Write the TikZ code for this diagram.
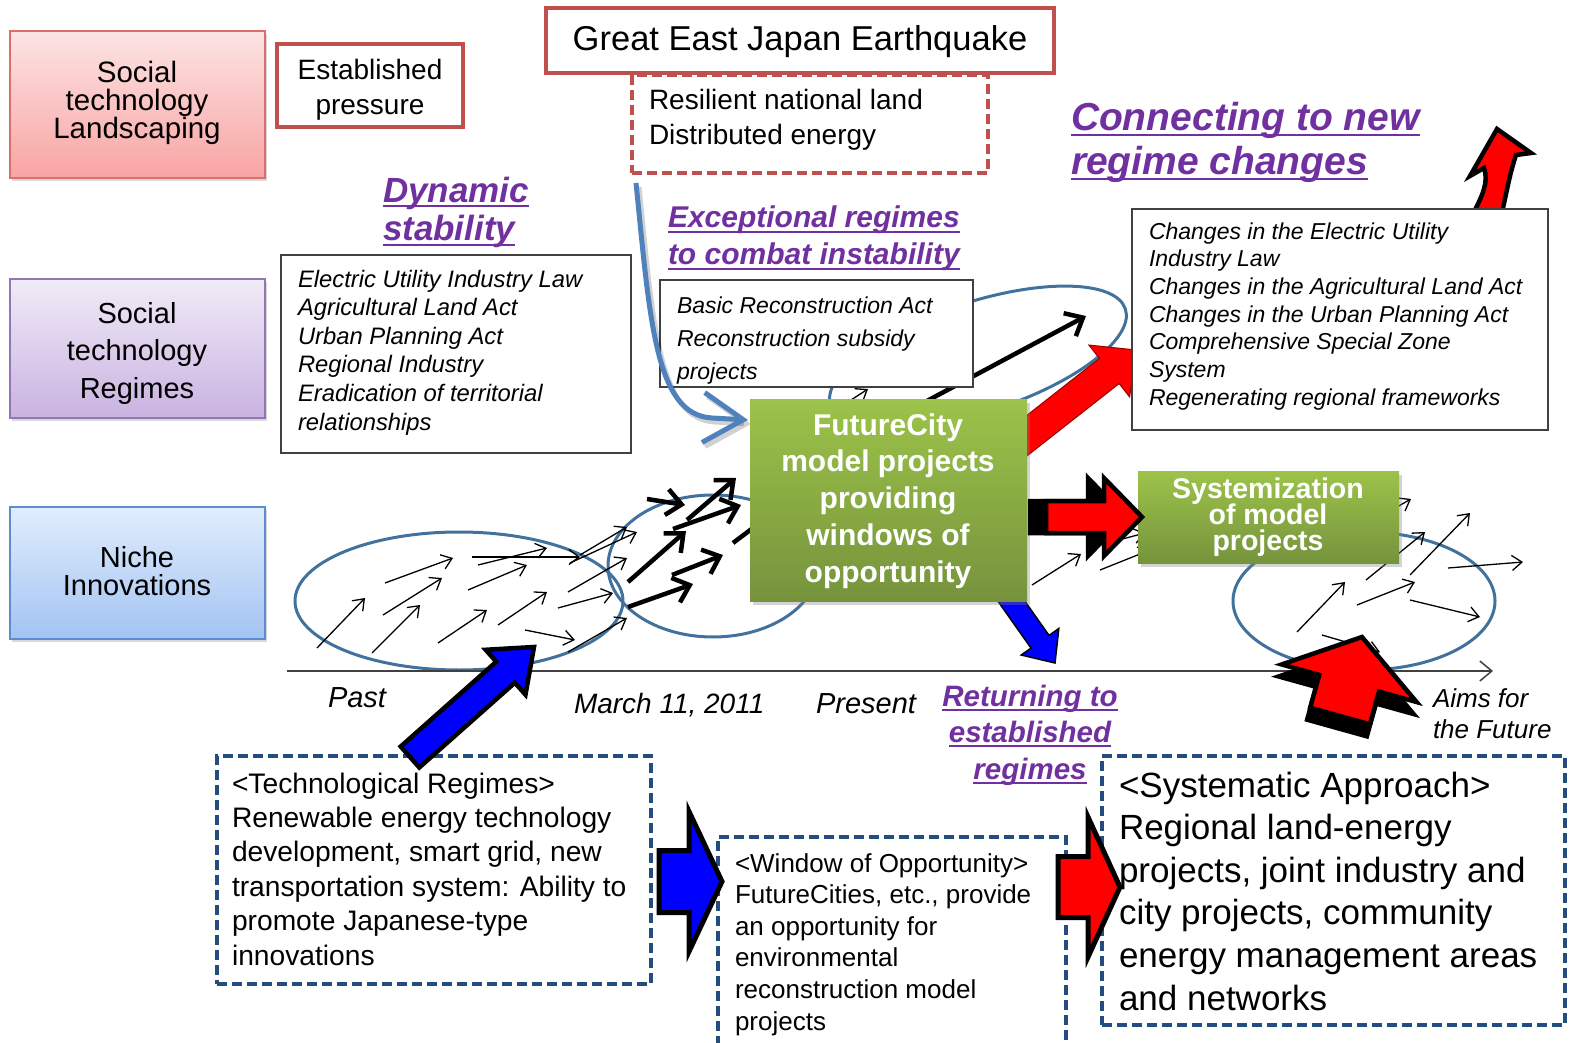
\documentclass[tikz,border=0pt]{standalone}
\usepackage{fontspec}
\setmainfont{Liberation Sans}
\usetikzlibrary{calc,shadows,arrows.meta}

\definecolor{ttlpurple}{HTML}{7030A0}
\definecolor{ellblue}{HTML}{41719C}
\definecolor{dashblue}{HTML}{254C7F}
\definecolor{boxred}{HTML}{C0504D}
\definecolor{grtop}{HTML}{9CC34A}
\definecolor{grbot}{HTML}{76933C}
\definecolor{pinktop}{HTML}{FDE4E4}
\definecolor{pinkbot}{HTML}{F8A4A3}
\definecolor{pinkline}{HTML}{D9706D}
\definecolor{lavtop}{HTML}{F1EBF7}
\definecolor{lavbot}{HTML}{C9B2E1}
\definecolor{lavline}{HTML}{8F78B3}
\definecolor{skytop}{HTML}{E1EDFC}
\definecolor{skybot}{HTML}{A3C3F3}
\definecolor{skyline}{HTML}{5B8DD0}
\definecolor{curvblue}{HTML}{4F81BD}
\definecolor{pureblue}{HTML}{0000FF}
\definecolor{purered}{HTML}{FF0000}

% font size with fixed line pitch
\newcommand\fsz[2]{\fontsize{#1}{#2}\selectfont\lineskiplimit=-100pt\relax}
% strut fixing the top of the first line at 0.75em above its baseline
\newcommand\tstr{\rule{0pt}{0.75em}}
% underlined word group, rule just below the baseline
\newcommand\ulx[1]{\setbox0=\hbox{#1}\rlap{\vrule height -0.09em depth \dimexpr 0.09em+2pt\relax width \wd0}\box0}
% block arrow: tail, tip, shaft half width, head half width, head length, style
\newcommand\blockarrow[6]{%
  \coordinate (ba-h) at ($(#2)!#5!(#1)$);
  \path[#6] ($(#1)!#3!90:(#2)$) -- ($(ba-h)!#3!90:(#2)$) -- ($(ba-h)!#4!90:(#2)$)
    -- (#2) -- ($(ba-h)!#4!-90:(#2)$) -- ($(ba-h)!#3!-90:(#2)$) -- ($(#1)!#3!-90:(#2)$) -- cycle;
}

\begin{document}
\begin{tikzpicture}[x=1pt,y=-1pt,
  every node/.style={inner sep=0pt, outer sep=0pt},
  ell/.style={draw=ellblue, line width=3pt},
  smallvec/.style={line width=1.3pt, -{Straight Barb[length=10pt,width=15pt]}},
  boldvec/.style={line width=4.5pt, -{Straight Barb[length=15pt,width=26pt]}},
  lawframe/.style={draw=black!75, line width=1.2pt, fill=white, anchor=north west},
  redframe/.style={draw=boxred, line width=3.5pt, fill=white, anchor=north west},
  dashbox/.style={draw=dashblue, line width=3.5pt, dash pattern=on 10pt off 5pt, anchor=north west},
  greenbox/.style={anchor=north west, shading=axis, top color=grtop, bottom color=grbot,
    drop shadow={shadow xshift=3pt, shadow yshift=-4pt, opacity=0.35}},
  layerbox/.style={anchor=north west, line width=1.2pt,
    drop shadow={shadow xshift=2pt, shadow yshift=-3pt, opacity=0.3}},
  ttl/.style={text=ttlpurple, anchor=north west, align=left},
  lawtext/.style={anchor=north west, align=left},
]
\useasboundingbox (0,0) rectangle (1575,1043);

% ---------- niche / regime ellipses ----------
\draw[ell] (459,601) ellipse [x radius=164, y radius=69];
\draw[ell] (713,566) ellipse [x radius=105, y radius=71];
\draw[ell, rotate around={18:(978,357)}] (978,357) ellipse [x radius=155, y radius=55];
\draw[ell] (1364,601) ellipse [x radius=131, y radius=69];

% ---------- small development vectors ----------
\foreach \ax/\ay/\bx/\by in {
  317/648/365/598, 372/653/420/605, 383/615/442/578, 385/583/453/558,
  438/643/487/610, 468/590/527/565, 478/565/547/548, 472/557/580/557,
  498/625/547/592, 525/630/575/640, 558/608/613/593, 568/592/627/558,
  570/563/637/532, 580/555/627/527, 568/652/627/618, 820/420/868/389,
  1032/585/1081/554, 1100/545/1145/533, 1100/570/1150/550, 1330/545/1411/499,
  1366/580/1425/532, 1410/575/1470/513, 1297/632/1345/582, 1357/605/1415/582,
  1410/600/1480/617, 1448/568/1523/562, 1322/635/1380/652}
  \draw[smallvec] (\ax,\ay) -- (\bx,\by);

\foreach \ax/\ay/\bx/\by in {
  647/499/685/505, 687/520/736/478, 673/529/741/505, 628/582/686/531,
  672/575/723/555, 628/607/693/584, 733/543/790/500, 925/402/1086/316}
  \draw[boldvec] (\ax,\ay) -- (\bx,\by);

% ---------- arrows leaving the window of opportunity ----------
\draw[fill=purered, draw=black, line width=4.5pt, line join=miter]
  (1474,212) .. controls (1482,196) and (1489,182) .. (1484,168) -- (1470,176)
  -- (1497,129) -- (1531,153) -- (1516,155)
  .. controls (1509,176) and (1506,196) .. (1502,212) -- cycle;

\coordinate (rd-tail) at (1015,445);
\coordinate (rd-tip) at (1136,350);
\blockarrow{rd-tail}{rd-tip}{16pt}{33pt}{34pt}{fill=purered, draw=purered!60!black, line width=1pt}

\coordinate (bd-tail) at (1000,585);
\coordinate (bd-tip) at (1055,663);
\blockarrow{bd-tail}{bd-tip}{11pt}{23pt}{26pt}{fill=pureblue, draw=black, line width=1.5pt}

% ---------- regime boxes ----------
\node[lawframe, minimum width=350pt, minimum height=198pt] (lawbox) at (281,255) {};
\node[lawtext, font=\fsz{23.8}{28.6}\itshape] (lawtxt) at (298,269.2)
  {\tstr Electric Utility Industry Law\\Agricultural Land Act\\Urban Planning Act\\
   Regional Industry\\Eradication of territorial\\relationships};

\node[lawframe, minimum width=313pt, minimum height=107pt] (actbox) at (660,280) {};
\node[lawtext, font=\fsz{23}{33}\itshape] (acttxt) at (677,295.75)
  {\tstr Basic Reconstruction Act\\Reconstruction subsidy\\projects};

\node[lawframe, minimum width=416pt, minimum height=221pt] (chgbox) at (1132,209) {};
\node[lawtext, font=\fsz{23}{27.7}\itshape] (chgtxt) at (1149,221.75)
  {\tstr Changes in the Electric Utility\\Industry Law\\Changes in the Agricultural Land Act\\
   Changes in the Urban Planning Act\\Comprehensive Special Zone\\System\\
   Regenerating regional frameworks};

% ---------- curved pressure arrow ----------
\draw[line width=5pt, draw=black, opacity=0.18, -{Straight Barb[length=40pt,width=50pt]}]
  (639,187) .. controls (653,324) and (658,419) .. (715,422) -- (751,424);
\draw[line width=5pt, draw=curvblue, -{Straight Barb[length=40pt,width=50pt]}]
  (636,183) .. controls (650,320) and (655,415) .. (712,418) -- (748,420);

% ---------- window of opportunity ----------
\node[greenbox, minimum width=277pt, minimum height=202pt] (fcbox) at (750,399) {};
\node[anchor=north, align=center, text=white, font=\fsz{30}{36.8}\bfseries] (fctxt) at (888,412.5)
  {\tstr FutureCity\\model projects\\providing\\windows of\\opportunity};

\node[greenbox, minimum width=261pt, minimum height=92pt] (sysbox) at (1138,471) {};
\node[anchor=north, align=center, text=white, font=\fsz{28.5}{26}\bfseries] (systxt) at (1268,477.6)
  {\tstr Systemization\\of model\\projects};

\coordinate (rh-tail) at (1046,517);
\coordinate (rh-tip) at (1142,517);
\blockarrow{rh-tail}{rh-tip}{16pt}{39pt}{38pt}{fill=black, draw=black, line width=4.5pt, transform canvas={shift={(-16,0)}}}
\blockarrow{rh-tail}{rh-tip}{16pt}{39pt}{38pt}{fill=purered, draw=black, line width=4.5pt}

% ---------- time axis ----------
\coordinate (axs) at (287,671);
\coordinate (axe) at (1493,671);
\draw[line width=1.5pt, draw=black!75, -{Straight Barb[length=12pt,width=20pt]}] (axs) -- (axe);

\node[anchor=base west, font=\fsz{29}{34}\itshape] (past) at (328,707) {Past};
\node[anchor=base west, font=\fsz{28}{34}\itshape] (march) at (574,713) {March 11, 2011};
\node[anchor=base west, font=\fsz{29}{34}\itshape] (present) at (816,713) {Present};
\node[lawtext, font=\fsz{26}{31}\itshape] (aims) at (1433,687.5) {\tstr Aims for\\the Future};

\node[anchor=north, align=center, text=ttlpurple, font=\fsz{29.5}{36.5}\bfseries\itshape] (ret) at (1030,684)
  {\tstr\ulx{Returning to}\\\ulx{established}\\\ulx{regimes}};

% ---------- pushes from below ----------
\coordinate (ru-tail) at (1340,716);
\coordinate (ru-tip) at (1362,637);
\blockarrow{ru-tail}{ru-tip}{31pt}{70pt}{48pt}{fill=black, draw=black, line width=4.5pt, transform canvas={shift={(-3,12)}}}
\blockarrow{ru-tail}{ru-tip}{31pt}{70pt}{48pt}{fill=purered, draw=black, line width=4.5pt}

% ---------- bottom explanation boxes ----------
\node[dashbox, minimum width=434pt, minimum height=228pt] (techbox) at (217,756) {};
\node[lawtext, font=\fsz{28.2}{34.4}] (techtxt) at (232,771.85)
  {\tstr <Technological Regimes>\\Renewable energy technology\\development, smart grid, new\\
   transportation system: Ability to\\promote Japanese-type\\innovations};

\node[dashbox, minimum width=348pt, minimum height=215pt] (winbox) at (718,837) {};
\node[lawtext, font=\fsz{26}{31.6}] (wintxt) at (735,852.5)
  {\tstr <Window of Opportunity>\\FutureCities, etc., provide\\an opportunity for\\
   environmental\\reconstruction model\\projects};

\node[dashbox, minimum width=463pt, minimum height=269pt] (sysapp) at (1102,756) {};
\node[lawtext, font=\fsz{35}{42.6}] (sysapptxt) at (1119,770.75)
  {\tstr <Systematic Approach>\\Regional land-energy\\projects, joint industry and\\
   city projects, community\\energy management areas\\and networks};

\coordinate (bb-tail) at (410,757);
\coordinate (bb-tip) at (534,647);
\blockarrow{bb-tail}{bb-tip}{14pt}{30pt}{38pt}{fill=pureblue, draw=black, line width=4.5pt}

\coordinate (bw-tail) at (659,881.5);
\coordinate (bw-tip) at (722,881.5);
\blockarrow{bw-tail}{bw-tip}{31pt}{70pt}{33pt}{fill=pureblue, draw=black, line width=5pt}

\coordinate (rw-tail) at (1058,887);
\coordinate (rw-tip) at (1120,887);
\blockarrow{rw-tail}{rw-tip}{30.5pt}{70pt}{32pt}{fill=purered, draw=black, line width=5pt}

% ---------- layer labels ----------
\node[layerbox, shading=axis, top color=pinktop, bottom color=pinkbot, draw=pinkline,
  minimum width=255pt, minimum height=147pt] (land) at (10,31) {};
\node[anchor=north, align=center, font=\fsz{29.5}{28}] (landtxt) at (137,60)
  {\tstr Social\\technology\\Landscaping};

\node[layerbox, shading=axis, top color=lavtop, bottom color=lavbot, draw=lavline,
  minimum width=255pt, minimum height=139pt] (reg) at (10,279) {};
\node[anchor=north, align=center, font=\fsz{29}{37.5}] (regtxt) at (137,301.25)
  {\tstr Social\\technology\\Regimes};

\node[layerbox, shading=axis, top color=skytop, bottom color=skybot, draw=skyline,
  minimum width=255pt, minimum height=132pt] (niche) at (10,507) {};
\node[anchor=north, align=center, font=\fsz{29}{28}] (nichetxt) at (137,545.25)
  {\tstr Niche\\Innovations};

% ---------- landscape pressures ----------
\node[dashbox, draw=boxred, line width=3.5pt, dash pattern=on 10pt off 5pt,
  minimum width=356pt, minimum height=98pt] (resbox) at (632,75) {};
\node[lawtext, font=\fsz{28}{35}] (restxt) at (649,89)
  {\tstr Resilient national land\\Distributed energy};

\node[redframe, minimum width=508pt, minimum height=65pt] (quake) at (546,8) {};
\node[anchor=base, font=\fsz{34.5}{40}] (quaketxt) at (800,51) {Great East Japan Earthquake};

\node[redframe, minimum width=186pt, minimum height=83pt] (estbox) at (277,44) {};
\node[anchor=north, align=center, font=\fsz{28}{35}] (esttxt) at (370,59)
  {\tstr Established\\pressure};

% ---------- headings ----------
\node[ttl, font=\fsz{35}{39}\bfseries\itshape] (dyn) at (383,175.75)
  {\tstr\ulx{Dynamic}\\\ulx{stability}};
\node[ttl, font=\fsz{30}{37}\bfseries\itshape] (exc) at (668,205.5)
  {\tstr\ulx{Exceptional regimes}\\\ulx{to combat instability}};
\node[ttl, font=\fsz{39}{44}\bfseries\itshape] (conn) at (1071,101)
  {\tstr\ulx{Connecting to new}\\\ulx{regime changes}};

\end{tikzpicture}
\end{document}
